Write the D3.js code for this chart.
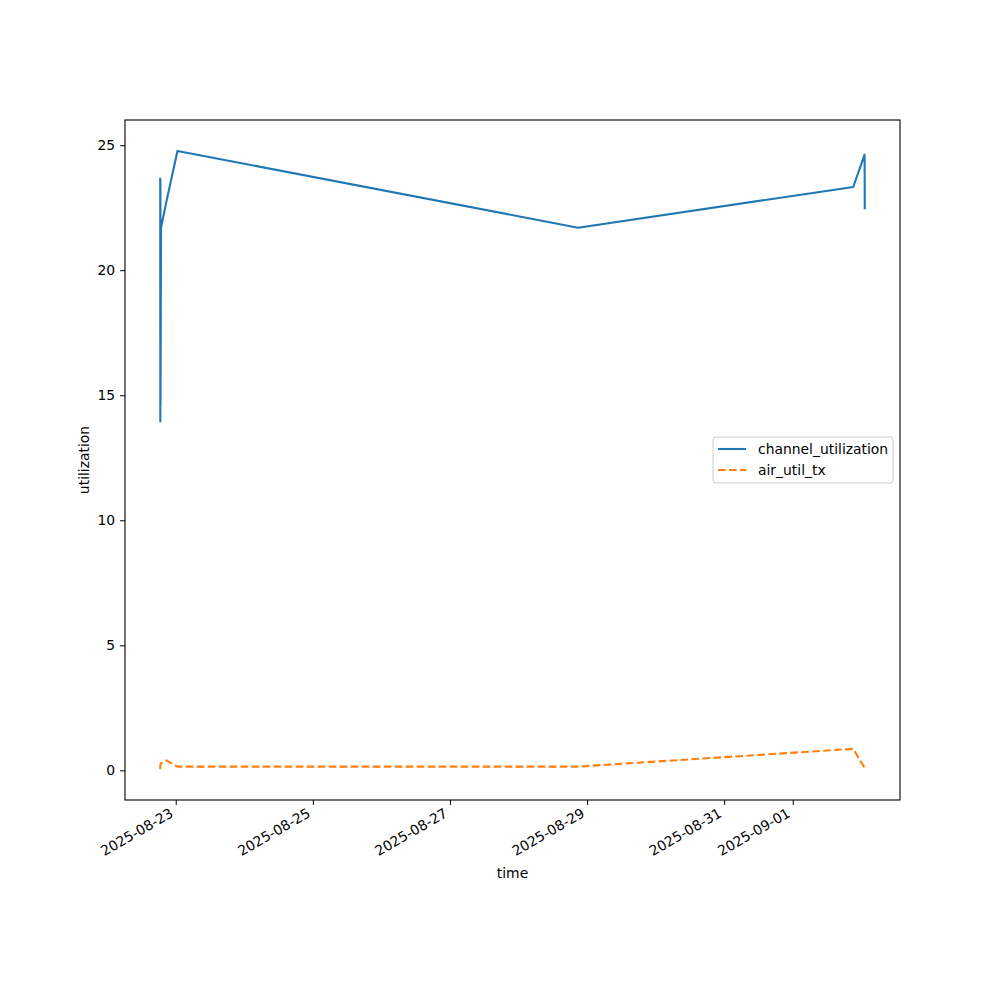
<!DOCTYPE html>
<html>
<head>
<meta charset="utf-8">
<script src="https://cdn.jsdelivr.net/npm/d3@7"></script>
<style>
  body { margin: 0; background: #fff; }
  text { font-family: "DejaVu Sans", sans-serif; }
</style>
</head>
<body>
<div id="graphic"></div>
<script>
// Data
const times = [
  "2025-08-22T18:34", "2025-08-22T18:36", "2025-08-22T18:38", "2025-08-22T18:40",
  "2025-08-22T18:51", "2025-08-22T20:44", "2025-08-23T00:36", "2025-08-28T20:51",
  "2025-09-01T21:12", "2025-09-02T01:09", "2025-09-02T01:13"
];
const channelUtilization = [23.7, 13.95, 23.6, 14.6, 21.7, 22.75, 24.77, 21.7, 23.33, 24.62, 22.44];
const airUtilTx = [0.05, 0.12, 0.2, 0.25, 0.28, 0.4, 0.15, 0.15, 0.86, 0.1, 0.09];
const yTicks = [0, 5, 10, 15, 20, 25];
const xTicks = ["2025-08-23", "2025-08-25", "2025-08-27", "2025-08-29", "2025-08-31", "2025-09-01"];

const parseTime = d3.timeParse("%Y-%m-%dT%H:%M");
const parseDay = d3.timeParse("%Y-%m-%d");
const data = times.map((t, i) => ({
  time: parseTime(t),
  channel: channelUtilization[i],
  air: airUtilTx[i]
}));

// Dimensions and margins (matplotlib-like figure)
const W = 1000, H = 1000;
const margin = { top: 120, right: 100, bottom: 200, left: 125 };
const width = W - margin.left - margin.right;
const height = H - margin.top - margin.bottom;

const svg = d3.select("#graphic")
  .append("svg")
  .attr("width", W)
  .attr("height", H);

const g = svg.append("g")
  .attr("transform", `translate(${margin.left},${margin.top})`);

// X scale with 5% padding
const tExt = d3.extent(data, d => d.time);
const tPad = (tExt[1] - tExt[0]) * 0.05;
const x = d3.scaleTime()
  .domain([new Date(+tExt[0] - tPad), new Date(+tExt[1] + tPad)])
  .range([0, width]);

// Y scale with 5% padding
const yMin = d3.min([...channelUtilization, ...airUtilTx]);
const yMax = d3.max([...channelUtilization, ...airUtilTx]);
const yPad = (yMax - yMin) * 0.05;
const y = d3.scaleLinear()
  .domain([yMin - yPad, yMax + yPad])
  .range([height, 0]);

// X axis
const xAxis = g.append("g")
  .attr("transform", `translate(0,${height})`)
  .call(d3.axisBottom(x)
    .tickValues(xTicks.map(parseDay))
    .tickFormat(d3.timeFormat("%Y-%m-%d"))
    .tickSize(4.9)
    .tickSizeOuter(0));
xAxis.select(".domain").remove();
xAxis.selectAll("text")
  .attr("font-size", 13.9)
  .attr("fill", "#000")
  .attr("text-anchor", "end")
  .attr("dy", null)
  .attr("y", 0)
  .attr("transform", "translate(-2,16) rotate(-30)");

// Y axis
const yAxis = g.append("g")
  .call(d3.axisLeft(y)
    .tickValues(yTicks)
    .tickSize(4.9)
    .tickPadding(5)
    .tickSizeOuter(0));
yAxis.select(".domain").remove();
yAxis.selectAll("text")
  .attr("font-size", 13.9)
  .attr("fill", "#000");

// Frame
g.append("rect")
  .attr("width", width)
  .attr("height", height)
  .attr("fill", "none")
  .attr("stroke", "#000")
  .attr("stroke-width", 1.1);

// Lines
const lineChannel = d3.line().x(d => x(d.time)).y(d => y(d.channel));
const lineAir = d3.line().x(d => x(d.time)).y(d => y(d.air));

g.append("path")
  .datum(data)
  .attr("fill", "none")
  .attr("stroke", "#1f77b4")
  .attr("stroke-width", 2.08)
  .attr("stroke-linejoin", "round")
  .attr("d", lineChannel);

g.append("path")
  .datum(data)
  .attr("fill", "none")
  .attr("stroke", "#ff7f0e")
  .attr("stroke-width", 2.08)
  .attr("stroke-dasharray", "7.7,3.3")
  .attr("d", lineAir);

// Axis labels
svg.append("text")
  .attr("x", margin.left + width / 2)
  .attr("y", 878)
  .attr("text-anchor", "middle")
  .attr("font-size", 13.9)
  .text("time");

svg.append("text")
  .attr("transform", `translate(89,${margin.top + height / 2}) rotate(-90)`)
  .attr("text-anchor", "middle")
  .attr("font-size", 13.9)
  .text("utilization");

// Legend
const legend = svg.append("g").attr("transform", "translate(713,437)");
legend.append("rect")
  .attr("width", 180)
  .attr("height", 46)
  .attr("rx", 3)
  .attr("fill", "#fff")
  .attr("fill-opacity", 0.8)
  .attr("stroke", "#ccc");

const items = [
  { name: "channel_utilization", color: "#1f77b4", dash: null },
  { name: "air_util_tx", color: "#ff7f0e", dash: "7.7,3.3" }
];
items.forEach((it, i) => {
  const yy = 12 + i * 21;
  legend.append("line")
    .attr("x1", 5).attr("x2", 33)
    .attr("y1", yy).attr("y2", yy)
    .attr("stroke", it.color)
    .attr("stroke-width", 2.08)
    .attr("stroke-dasharray", it.dash);
  legend.append("text")
    .attr("x", 45)
    .attr("y", yy + 5)
    .attr("font-size", 13.9)
    .text(it.name);
});
</script>
</body>
</html>
